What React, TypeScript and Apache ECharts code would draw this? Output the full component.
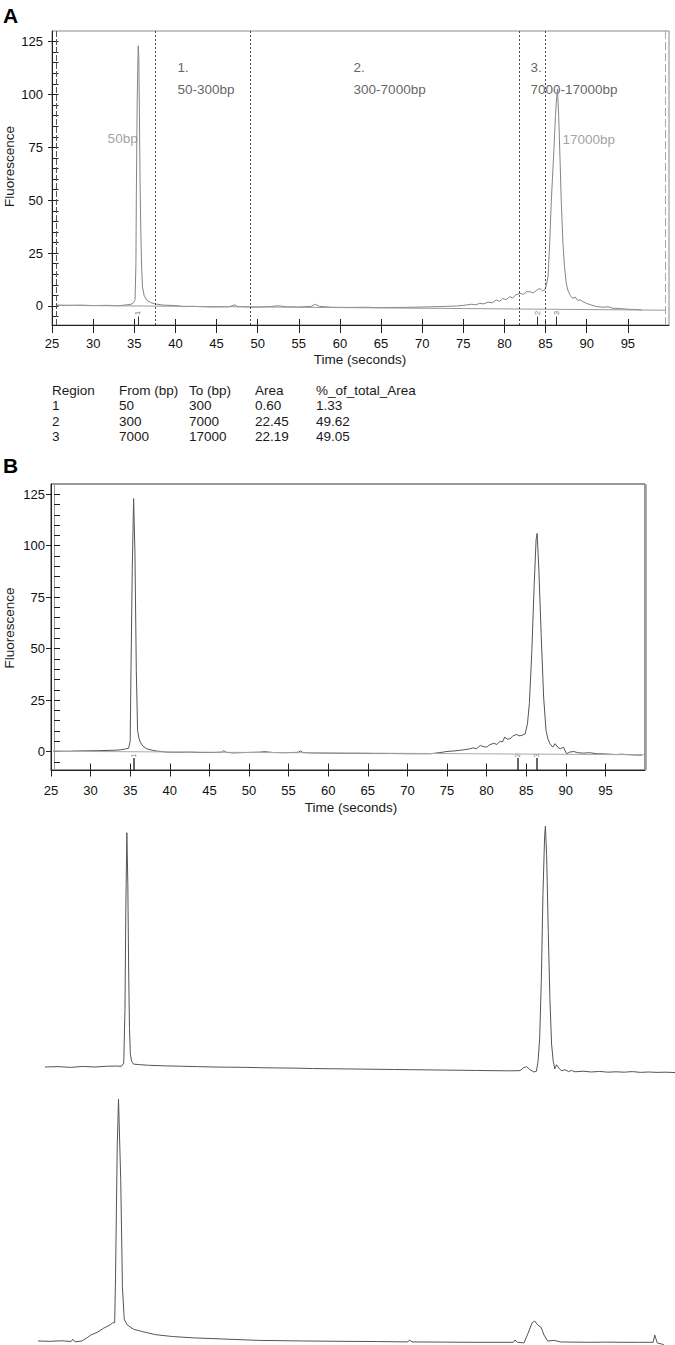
import React, { useEffect, useRef } from "react";
import * as echarts from "echarts";

const FONT = '"Liberation Sans", Arial, Helvetica, sans-serif';

// ---- axis ticks ----
const xTicks = [25, 30, 35, 40, 45, 50, 55, 60, 65, 70, 75, 80, 85, 90, 95];
const yMajor = [0, 25, 50, 75, 100, 125];
const yMinor = [-5, 0, 5, 10, 15, 20, 25, 30, 35, 40, 45, 50, 55, 60, 65, 70, 75, 80, 85, 90, 95, 100, 105, 110, 115, 120, 125];

// ---- panel A trace [time s, fluorescence] ----
const traceA = [
  [25.6, 0.4], [27, 0.3], [28.5, 0.4], [30, 0.2], [31.8, 0.3], [33, 0.1], [33.8, 0.4], [34.6, 0.8], [34.9, 1.5],
  [35.1, 3], [35.2, 20], [35.25, 51], [35.35, 95], [35.42, 112], [35.48, 123], [35.55, 118], [35.62, 94],
  [35.7, 60], [35.8, 34], [35.9, 18], [36.0, 9], [36.2, 5], [36.5, 2.8], [37.0, 1.6], [37.5, 1.0], [38.5, 0.4],
  [40, 0.2], [41, -0.3], [42, -0.2], [43.5, -0.4], [44.5, -0.5], [46.5, -0.4], [47.2, 0.5], [47.6, -0.3],
  [49, -0.5], [50, -0.6], [51.5, -0.3], [52.5, 0.1], [53.5, -0.4], [55, -0.5], [56.5, -0.2], [57, 0.8],
  [57.5, -0.2], [59, -0.6], [61, -0.7], [63, -0.6], [65, -0.8], [67, -0.7], [69, -0.6], [71, -0.4], [73, -0.2],
  [74.2, 0], [75, 0.3], [76, 0.8], [76.5, 0.6], [77, 1.2], [77.5, 1.0], [78, 1.8], [78.5, 1.5], [79, 2.8],
  [79.4, 2.2], [79.8, 3.5], [80.2, 3.0], [80.65, 4.4], [81, 3.8], [81.4, 5.3], [81.9, 6.0], [82.3, 5.5],
  [82.7, 6.8], [83.1, 6.7], [83.5, 6.2], [83.9, 7.4], [84.3, 8.3], [84.6, 7.2], [84.9, 7.5], [85.1, 10],
  [85.3, 14], [85.5, 30], [85.7, 50], [86.0, 73], [86.2, 90], [86.35, 99], [86.45, 102.6], [86.6, 89],
  [86.75, 70], [86.9, 50], [87.1, 30], [87.3, 18.5], [87.5, 11], [87.7, 7.5], [88.0, 5], [88.3, 3.6],
  [88.6, 4.2], [88.9, 2.6], [89.2, 2.9], [89.55, 2], [90, 1.2], [90.6, 0.4], [91.2, -0.3], [92, -0.6],
  [92.6, -0.4], [93.2, -1.1], [94, -1.2], [94.6, -1.4], [95.2, -1.6], [96, -1.7], [96.7, -1.9],
];
const baselineA = [[25.6, 0.3], [99.6, -2.0]];
const regionBounds = [37.6, 49.1, 81.8, 85.0];
const windowBounds = [25.5, 99.6];
const regionNums = ["1.", "2.", "3."];
const regionRanges = ["50-300bp", "300-7000bp", "7000-17000bp"];
const regionLabelT = [40.2, 61.6, 83.1];
const regionNumV = 112.6;
const regionRangeV = 102.3;
const sizeLabels = ["50bp", "17000bp"];
const sizeLabelT = [31.7, 87.0];
const sizeLabelV = [79.2, 78.7];
const peakMarksA = [35.45, 84.0, 86.35];
const peakMarksB = [35.45, 83.9, 86.3];
const peakGlyphs = ["1", "2", "3"];

// ---- panel B trace ----
const traceB = [
  [25.3, 0.15], [27, 0.1], [29, 0.3], [31, 0.4], [33, 0.6], [33.75, 0.8], [34.4, 1.2], [34.8, 1.6], [35.0, 5],
  [35.1, 39.5], [35.26, 88], [35.43, 122.9], [35.6, 96.5], [35.77, 39.5], [35.93, 10.3], [36.1, 6.5],
  [36.27, 4.6], [36.6, 2.6], [37.1, 1.3], [37.8, 0.6], [38.4, 0.15], [39.6, -0.3], [41, -0.4], [42.5, -0.3],
  [43.8, -0.5], [45.5, -0.5], [46.6, -0.3], [46.8, 0.4], [47.1, -0.4], [48.05, -0.7], [49.5, -0.5],
  [50.5, -0.4], [51.4, -0.3], [52, -0.1], [53, -0.5], [54.5, -0.6], [56.2, -0.4], [56.5, 0.3], [56.8, -0.5],
  [58, -0.7], [60.2, -0.8], [62, -0.9], [64, -0.9], [66, -1.0], [68, -1.0], [70, -1.1], [72.9, -1.1],
  [74, -0.6], [75, 0], [76, 0.3], [77.1, 0.8], [77.8, 1.2], [78.3, 1.8], [78.7, 1.3], [79.2, 2.9], [79.6, 2.4],
  [80, 2.1], [80.4, 3.3], [80.9, 4.0], [81.3, 3.4], [81.7, 5.0], [82.0, 4.6], [82.3, 7.0], [82.6, 6.0],
  [82.96, 6.2], [83.3, 7.5], [83.8, 8.3], [84.1, 7.6], [84.45, 7.8], [84.87, 8.6], [85.16, 13.5],
  [85.4, 23.3], [85.7, 47.7], [86.0, 80.2], [86.25, 103], [86.38, 106], [86.6, 88.4], [86.9, 55.8],
  [87.2, 26.5], [87.5, 10.3], [87.75, 6], [88.0, 3.8], [88.36, 2.1], [88.65, 3.8], [89.0, 2.0], [89.3, 1.3],
  [89.7, 2.1], [90.1, -1.1], [90.5, -0.3], [91, 0], [91.5, -0.6], [92.2, -0.8], [93, -0.6], [93.9, -1.1],
  [95, -1.2], [96.4, -1.5], [97, -1.3], [98.1, -1.6], [99.6, -1.8],
];
const baselineB = [[25.3, 0.1], [99.9, -1.6]];

// ---- lower traces (no axes shown) ----
const traceC = [
  [25.4, 0], [27, 0.2], [28.5, -0.2], [30, 0.3], [31.5, 0], [33, 0.4], [34.2, 0.5], [34.7, 0.3], [35.0, 2],
  [35.15, 30], [35.25, 80], [35.38, 122], [35.5, 95], [35.6, 50], [35.7, 20], [35.8, 7], [35.95, 3],
  [36.2, 1.5], [37, 1.2], [38, 0.9], [40, 0.6], [42, 0.4], [44, 0.2], [46, 0], [48, -0.1], [50, -0.2],
  [52, -0.4], [54, -0.5], [56, -0.6], [58, -0.8], [60, -0.9], [62, -1.0], [64, -1.1], [66, -1.2], [68, -1.3],
  [70, -1.4], [72, -1.5], [74, -1.6], [76, -1.7], [78, -1.8], [80, -1.9], [82, -2.0], [83.3, -1.9],
  [83.7, -0.5], [84.1, 0.2], [84.5, -1.3], [85.0, -2.6], [85.3, -2.2], [85.5, 3], [85.7, 15], [85.9, 45],
  [86.1, 90], [86.3, 120], [86.4, 125.5], [86.55, 110], [86.75, 70], [86.95, 35], [87.15, 12], [87.35, 3],
  [87.55, -1], [87.75, 1.2], [88.1, -1.0], [88.4, -2.0], [88.8, -1.4], [89.2, -2.4], [89.6, -1.8], [90, -2.5],
  [91, -2.2], [92, -2.6], [93, -2.3], [94, -2.7], [95, -2.5], [96, -2.7], [97, -2.4], [98, -2.8], [99, -2.6],
  [100, -2.8], [101, -2.7], [102.2, -2.9],
];
const traceD = [
  [25.55, 0], [27, -0.2], [28.5, 0.1], [29.6, -0.3], [29.8, 0.9], [30.1, -0.5], [30.9, 0], [31.5, 1.5],
  [32.0, 3.1], [32.8, 4.5], [33.55, 6.6], [34.36, 8.3], [34.7, 9.5], [34.93, 9.5], [35.03, 31.8],
  [35.24, 101], [35.4, 126], [35.67, 84], [35.88, 28], [36.1, 11.3], [36.47, 8.3], [37.25, 6.1], [38.3, 4.9],
  [39.9, 3.3], [42.0, 2.3], [44.6, 1.6], [48.3, 1.0], [52.5, 0.3], [57.8, 0], [63.1, -0.2], [67, -0.3],
  [70.8, -0.5], [71.0, 0.5], [71.3, -0.5], [75, -0.6], [78.9, -0.7], [83.7, -0.7], [83.9, 0.5], [84.2, -0.7],
  [85.0, -1], [85.5, 4], [86.0, 9.5], [86.3, 10.4], [86.7, 8.3], [87.1, 7.1], [87.45, 3.1], [87.9, 0],
  [88.7, 0.3], [89.45, -0.5], [91, -0.6], [93, -0.7], [95, -0.6], [97, -0.7], [99, -0.7], [100.8, -0.7],
  [101.0, 3.1], [101.3, -1], [102.1, -1.9],
];

// ---- results table ----
const tableHeader = ["Region", "From (bp)", "To (bp)", "Area", "%_of_total_Area"];
const regionIds = ["1", "2", "3"];
const fromBp = ["50", "300", "7000"];
const toBp = ["300", "7000", "17000"];
const areas = ["0.60", "22.45", "22.19"];
const pctArea = ["1.33", "49.62", "49.05"];

export default function App() {
  const ref = useRef<HTMLDivElement>(null);

  useEffect(() => {
    if (!ref.current) return;
    const chart = echarts.init(ref.current, null, { renderer: "svg" });

    const lbl = (size: number, color = "#111") => ({ fontSize: size, color, fontFamily: FONT });

    const mainX = (grid: number, margin: number, tickLen: number) => ({
      type: "value", gridIndex: grid, min: 25, max: 100, position: "bottom",
      axisLine: { show: true, onZero: false, lineStyle: { color: "#222", width: 1 } },
      axisTick: { show: true, inside: false, length: tickLen, customValues: xTicks, lineStyle: { color: "#222" } },
      axisLabel: { show: true, customValues: xTicks, margin, ...lbl(13) },
      splitLine: { show: false },
    });
    const innerX = (grid: number, tickLen: number) => ({
      type: "value", gridIndex: grid, min: 25, max: 100, position: "bottom",
      axisLine: { show: false, onZero: false },
      axisTick: { show: true, inside: true, length: tickLen, customValues: xTicks, lineStyle: { color: "#222" } },
      axisLabel: { show: false },
      splitLine: { show: false },
    });
    const mainY = (grid: number, margin: number, tickLen: number) => ({
      type: "value", gridIndex: grid, min: -9, max: 130, position: "left",
      axisLine: { show: true, onZero: false, lineStyle: { color: "#222", width: 1 } },
      axisTick: { show: true, inside: false, length: tickLen, customValues: yMajor, lineStyle: { color: "#222" } },
      axisLabel: { show: true, customValues: yMajor, margin, ...lbl(13) },
      splitLine: { show: false },
    });
    const innerY = (grid: number, tickLen: number, lineColor: string | null, offset: number) => ({
      type: "value", gridIndex: grid, min: -9, max: 130, position: "left", offset,
      axisLine: { show: !!lineColor, onZero: false, lineStyle: { color: lineColor || "#000", width: 1 } },
      axisTick: { show: true, inside: true, length: tickLen, customValues: yMinor, lineStyle: { color: "#222" } },
      axisLabel: { show: false },
      splitLine: { show: false },
    });
    const hidden = (grid: number, min: number, max: number) => ({
      type: "value", gridIndex: grid, min, max, show: false, splitLine: { show: false },
    });

    const textG = (text: string, x: number, y: number, size = 13.5, extra: any = {}) => ({
      type: "text", x, y, silent: true,
      style: { text, fill: "#1a1a1a", font: `${size}px ${FONT}`, align: "left", verticalAlign: "middle", ...extra },
    });

    const tableCols = [52, 119, 189, 255, 316];
    const tableRows = [390, 405.5, 421, 436.5];
    const tableData = [tableHeader, ...regionIds.map((r, i) => [r, fromBp[i], toBp[i], areas[i], pctArea[i]])];
    const tableTexts: any[] = [];
    tableData.forEach((row, ri) =>
      row.forEach((cell, ci) => tableTexts.push(textG(cell, tableCols[ci], tableRows[ri])))
    );

    const annA = [
      ...regionNums.map((t, i) => ({ value: [regionLabelT[i], regionNumV], name: t, label: { color: "#3a3a3a" } })),
      ...regionRanges.map((t, i) => ({ value: [regionLabelT[i], regionRangeV], name: t, label: { color: "#3a3a3a" } })),
      ...sizeLabels.map((t, i) => ({ value: [sizeLabelT[i], sizeLabelV[i]], name: t, label: { color: "#8a8a8a" } })),
    ];

    const glyphs = (marks: number[], v: number) =>
      marks.map((t, i) => ({ value: [t, v], name: peakGlyphs[i] }));
    const markTicks = (marks: number[], top: number) =>
      marks.map((t) => [{ coord: [t, -9] }, { coord: [t, top] }]);

    const option: any = {
      animation: false,
      backgroundColor: "#ffffff",
      textStyle: { fontFamily: FONT },
      grid: [
        { left: 52, right: 6, top: 31, bottom: 1020, show: true, borderColor: "#8a8a8a", borderWidth: 1, containLabel: false },
        { left: 51, right: 30, top: 484, bottom: 575, show: true, borderColor: "#333", borderWidth: 1, containLabel: false },
        { left: 41.7, right: 1.6, top: 817.4, bottom: 268.4, show: false },
        { left: 33.5, right: 3.9, top: 1091.4, bottom: 0.2, show: false },
      ],
      xAxis: [
        mainX(0, 12, 8), innerX(0, 6),
        mainX(1, 13.5, 6.5), innerX(1, 6.5),
        hidden(2, 25, 102), hidden(3, 25, 103),
      ],
      yAxis: [
        mainY(0, 9, 4), innerY(0, 6.5, null, 0),
        mainY(1, 6, 5), innerY(1, 6, "#9a9a9a", -3),
        hidden(2, -5, 130), hidden(3, -2, 130),
      ],
      graphic: [
        textG("A", 3, 15, 21, { font: `bold 21px ${FONT}`, fill: "#000" }),
        textG("B", 3, 465, 21, { font: `bold 21px ${FONT}`, fill: "#000" }),
        { ...textG("Fluorescence", 0, 0, 13.5, { align: "center" }), x: 9, y: 166.5, rotation: Math.PI / 2 },
        { ...textG("Fluorescence", 0, 0, 13.5, { align: "center" }), x: 9, y: 628, rotation: Math.PI / 2 },
        textG("Time (seconds)", 360, 359, 13.5, { align: "center" }),
        textG("Time (seconds)", 351, 807, 13.5, { align: "center" }),
        ...tableTexts,
      ],
      series: [
        {
          type: "line", name: "A", xAxisIndex: 0, yAxisIndex: 0, data: traceA, showSymbol: false, symbol: "none",
          lineStyle: { color: "#858585", width: 1 }, silent: true,
          markLine: {
            silent: true, symbol: "none", label: { show: false }, animation: false,
            data: [
              ...regionBounds.map((t) => ({ xAxis: t, lineStyle: { color: "#4a4a4a", type: [2, 2], width: 1 } })),
              { xAxis: windowBounds[0], lineStyle: { color: "#555", type: [6, 2], width: 1 } },
              { xAxis: windowBounds[1], lineStyle: { color: "#aaa", type: [8, 3], width: 1 } },
            ],
          },
        },
        {
          type: "line", name: "A baseline", xAxisIndex: 0, yAxisIndex: 0, data: baselineA, symbol: "none",
          lineStyle: { color: "#999", width: 1 }, silent: true,
          markLine: {
            silent: true, symbol: "none", label: { show: false },
            lineStyle: { color: "#333", type: "solid", width: 1 },
            data: markTicks(peakMarksA, -5),
          },
        },
        {
          type: "scatter", name: "A labels", xAxisIndex: 0, yAxisIndex: 0, data: annA, symbolSize: 1,
          itemStyle: { color: "rgba(0,0,0,0)" }, silent: true,
          label: { show: true, position: "right", distance: 0, formatter: "{b}", fontSize: 13.5, fontFamily: FONT },
        },
        {
          type: "scatter", name: "A glyphs", xAxisIndex: 0, yAxisIndex: 0, data: glyphs(peakMarksA, -3.4), symbolSize: 1,
          itemStyle: { color: "rgba(0,0,0,0)" }, silent: true,
          label: { show: true, position: "inside", rotate: 90, formatter: "{b}", fontSize: 8, color: "#555", fontFamily: FONT },
        },
        {
          type: "line", name: "B", xAxisIndex: 2, yAxisIndex: 2, data: traceB, symbol: "none",
          lineStyle: { color: "#555", width: 1 }, silent: true,
          markLine: {
            silent: true, symbol: "none", label: { show: false },
            data: [{ xAxis: 100, lineStyle: { color: "#9a9a9a", type: "solid", width: 2.5 } }],
          },
        },
        {
          type: "line", name: "B baseline", xAxisIndex: 2, yAxisIndex: 2, data: baselineB, symbol: "none",
          lineStyle: { color: "#aaa", width: 1 }, silent: true,
          markLine: {
            silent: true, symbol: "none", label: { show: false },
            lineStyle: { color: "#333", type: "solid", width: 1.5 },
            data: markTicks(peakMarksB, -3.2),
          },
        },
        {
          type: "scatter", name: "B glyphs", xAxisIndex: 2, yAxisIndex: 2, data: glyphs(peakMarksB, -2), symbolSize: 1,
          itemStyle: { color: "rgba(0,0,0,0)" }, silent: true,
          label: { show: true, position: "inside", rotate: 90, formatter: "{b}", fontSize: 7, color: "#555", fontFamily: FONT },
        },
        {
          type: "line", name: "C", xAxisIndex: 4, yAxisIndex: 4, data: traceC, symbol: "none",
          lineStyle: { color: "#555", width: 1 }, silent: true,
        },
        {
          type: "line", name: "D", xAxisIndex: 5, yAxisIndex: 5, data: traceD, symbol: "none",
          lineStyle: { color: "#555", width: 1 }, silent: true,
        },
      ],
    };

    chart.setOption(option);
    return () => chart.dispose();
  }, []);

  return (
    <div
      ref={ref}
      style={{ position: "absolute", left: 0, top: 0, width: 675, height: 1345, background: "#fff" }}
    />
  );
}
